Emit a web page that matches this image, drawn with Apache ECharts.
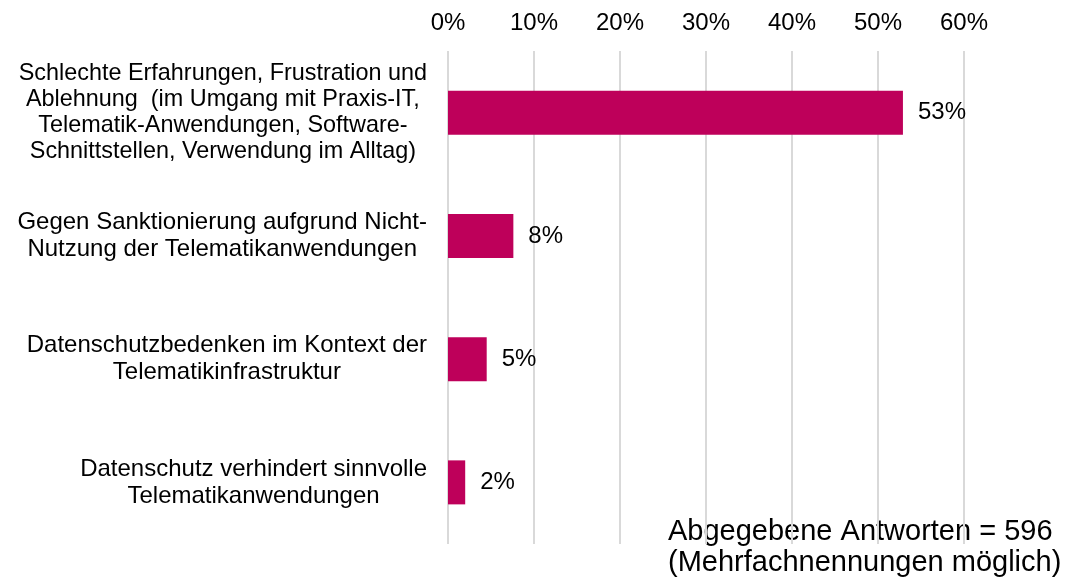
<!DOCTYPE html>
<html>
<head>
<meta charset="utf-8">
<script src="https://cdn.jsdelivr.net/npm/echarts@6/dist/echarts.min.js"></script>
<style>
html,body{margin:0;padding:0;background:#fff;}
#chart{width:1067px;height:582px;}
</style>
</head>
<body>
<div id="chart"></div>
<script>
const categories = [
  "Schlechte Erfahrungen, Frustration und\nAblehnung  (im Umgang mit Praxis-IT,\nTelematik-Anwendungen, Software-\nSchnittstellen, Verwendung im Alltag)",
  "Gegen Sanktionierung aufgrund Nicht-\nNutzung der Telematikanwendungen",
  "Datenschutzbedenken im Kontext der\nTelematikinfrastruktur",
  "Datenschutz verhindert sinnvolle\nTelematikanwendungen"
];
const values = [52.9, 7.6, 4.5, 2.0];
const xTicks = [0, 10, 20, 30, 40, 50, 60];
const noteLines = ["Abgegebene Antworten = 596", "(Mehrfachnennungen möglich)"];

const FONT = '"Liberation Sans", Arial, sans-serif';
const chart = echarts.init(document.getElementById('chart'), null, {renderer: 'canvas'});
chart.setOption({
  backgroundColor: '#ffffff',
  animation: false,
  grid: {left: 448, right: 103, top: 51, bottom: 38, containLabel: false},
  xAxis: {
    type: 'value',
    position: 'top',
    min: xTicks[0],
    max: xTicks[xTicks.length - 1],
    interval: 10,
    axisLine: {show: false},
    axisTick: {show: false},
    splitLine: {show: true, lineStyle: {color: '#d9d9d9', width: 2}},
    axisLabel: {
      formatter: v => v + '%',
      color: '#000',
      fontSize: 24,
      fontFamily: FONT,
      margin: 16
    }
  },
  yAxis: {
    type: 'category',
    inverse: true,
    data: categories,
    axisLine: {show: false},
    axisTick: {show: false},
    splitLine: {show: false},
    axisLabel: {
      margin: 21,
      color: '#000',
      fontSize: 24,
      lineHeight: 27,
      fontFamily: FONT,
      formatter: (v, i) => {
        const key = i === 0 ? 's' : 'c';
        return v.split('\n').map(l => '{' + key + '|' + l + '}').join('\n');
      },
      rich: {
        c: {align: 'center', fontSize: 24, lineHeight: 27, fontFamily: FONT, color: '#000'},
        s: {align: 'center', fontSize: 23.4, lineHeight: 26, fontFamily: FONT, color: '#000'}
      }
    }
  },
  series: [{
    type: 'bar',
    data: values,
    barWidth: 44,
    itemStyle: {color: '#BE005A'},
    label: {
      show: true,
      position: 'right',
      distance: 15,
      color: '#000',
      fontSize: 24,
      fontFamily: FONT,
      formatter: p => Math.round(p.value) + '%'
    }
  }],
  graphic: [{
    type: 'text',
    left: 668,
    top: 516,
    style: {
      text: noteLines.join('\n'),
      fill: '#000',
      fontSize: 29,
      lineHeight: 31,
      fontFamily: FONT,
      textAlign: 'left'
    }
  }]
});
</script>
</body>
</html>
